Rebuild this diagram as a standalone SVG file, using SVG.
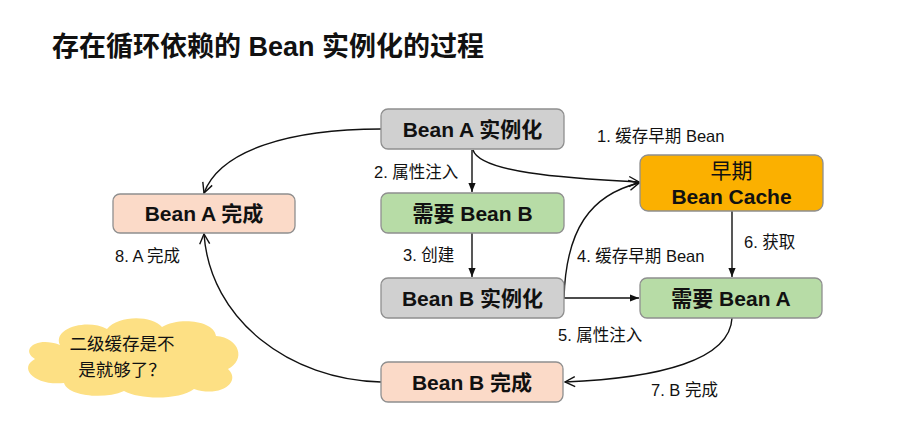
<svg xmlns="http://www.w3.org/2000/svg" width="903" height="438" viewBox="0 0 903 438">
  <style>
    .bg { fill: #ffffff; }
    .box { stroke: #8f8f8f; stroke-width: 1.3; }
    .grey { fill: #d0d0d0; }
    .green { fill: #b7dca6; }
    .peach { fill: #fbdac8; }
    .orange { fill: #fbb000; }
    .ntext { font-family: "Liberation Sans", "Noto Sans CJK SC", sans-serif; font-size: 21px; font-weight: bold; fill: #111; text-anchor: middle; }
    .ltext { font-family: "Liberation Sans", "Noto Sans CJK SC", sans-serif; font-size: 16.5px; fill: #111; }
    .title { font-family: "Liberation Sans", "Noto Sans CJK SC", sans-serif; font-size: 27px; font-weight: bold; fill: #111; }
    .ctext { font-family: "Noto Sans CJK SC", sans-serif; font-size: 17.5px; fill: #111; }
    .edge { fill: none; stroke: #111; stroke-width: 1.4; }
  </style>
  <defs>
    <marker id="tri" viewBox="0 0 10 10" refX="10" refY="5" markerUnits="userSpaceOnUse" markerWidth="9" markerHeight="9" orient="auto">
      <path d="M0,1 L10,5 L0,9 z" fill="#111"/>
    </marker>
    <marker id="vee" viewBox="0 0 12 12" refX="11" refY="6" markerUnits="userSpaceOnUse" markerWidth="12" markerHeight="12" orient="auto">
      <path d="M1,1 L11,6 L1,11" fill="none" stroke="#111" stroke-width="1.4"/>
    </marker>
  </defs>
  <rect class="bg" x="0" y="0" width="903" height="438"/>
  <text class="title" x="52" y="56">存在循环依赖的 Bean 实例化的过程</text>

  <g id="connectors">
    <path class="edge" d="M381,129 C290,129 220,150 204,193" marker-end="url(#vee)"/>
    <path class="edge" d="M472,150 L472,192" marker-end="url(#tri)"/>
    <path class="edge" d="M473,150 C480,172 560,178 639,182" marker-end="url(#vee)"/>
    <path class="edge" d="M472,233 L472,277" marker-end="url(#tri)"/>
    <path class="edge" d="M564,298 C566,230 590,195 639,183" marker-end="url(#vee)"/>
    <path class="edge" d="M564,298 L639,298" marker-end="url(#tri)"/>
    <path class="edge" d="M732,211 L732,277" marker-end="url(#tri)"/>
    <path class="edge" d="M732,318 C730,360 660,378 565,382" marker-end="url(#vee)"/>
    <path class="edge" d="M381,382 C290,380 210,320 204,234" marker-end="url(#vee)"/>
    <text class="ltext" x="597" y="142">1. 缓存早期 Bean</text>
    <text class="ltext" x="374" y="178">2. 属性注入</text>
    <text class="ltext" x="403" y="261">3. 创建</text>
    <text class="ltext" x="577" y="262">4. 缓存早期 Bean</text>
    <text class="ltext" x="558" y="341">5. 属性注入</text>
    <text class="ltext" x="744" y="248">6. 获取</text>
    <text class="ltext" x="651" y="396">7. B 完成</text>
    <text class="ltext" x="115" y="262">8. A 完成</text>
  </g>

  <g id="beanA-inst">
    <rect class="box grey" x="381" y="109" width="183" height="40" rx="7"/>
    <text class="ntext" x="472.5" y="136.5">Bean A 实例化</text>
  </g>
  <g id="need-beanB">
    <rect class="box green" x="381" y="193" width="183" height="40" rx="7"/>
    <text class="ntext" x="472.5" y="220.5">需要 Bean B</text>
  </g>
  <g id="early-cache">
    <rect class="box orange" x="640" y="155" width="183" height="56" rx="8"/>
    <text class="ntext" x="731.5" y="178" style="font-weight:normal">早期</text>
    <text class="ntext" x="731.5" y="203.5">Bean Cache</text>
  </g>
  <g id="beanA-done">
    <rect class="box peach" x="113" y="194" width="182" height="39" rx="7"/>
    <text class="ntext" x="204" y="221">Bean A 完成</text>
  </g>
  <g id="beanB-inst">
    <rect class="box grey" x="381" y="278" width="183" height="40" rx="7"/>
    <text class="ntext" x="472.5" y="305.5">Bean B 实例化</text>
  </g>
  <g id="need-beanA">
    <rect class="box green" x="640" y="278" width="182" height="40" rx="7"/>
    <text class="ntext" x="731" y="305.5">需要 Bean A</text>
  </g>
  <g id="beanB-done">
    <rect class="box peach" x="381" y="362" width="182" height="40" rx="7"/>
    <text class="ntext" x="472" y="389.5">Bean B 完成</text>
  </g>
  <g id="cloud">
    <path d="M60,345 C52,328 88,318 107,329 C118,315 152,315 162,327 C178,317 214,320 216,336 C240,338 246,360 228,369 C242,382 220,398 194,389 C180,400 140,400 124,391 C104,400 68,396 64,383 C34,386 18,368 35,359 C20,350 36,336 60,345 Z" fill="#fde084"/>
    <text class="ctext" x="122" y="350" text-anchor="middle">二级缓存是不</text>
    <text class="ctext" x="122" y="376" text-anchor="middle">是就够了？</text>
  </g>
</svg>
